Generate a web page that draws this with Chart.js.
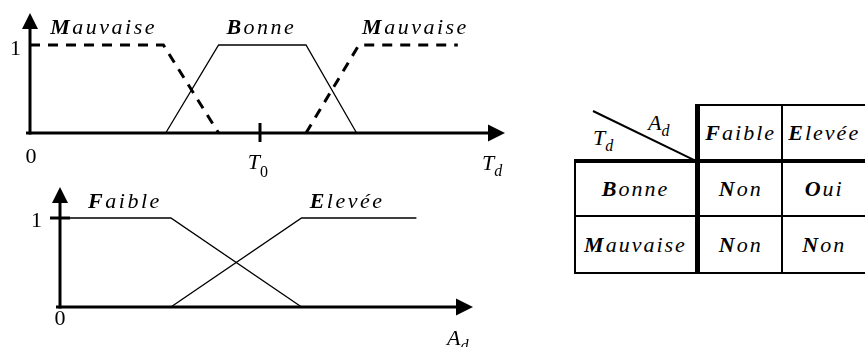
<!DOCTYPE html>
<html>
<head>
<meta charset="utf-8">
<script src="https://cdn.jsdelivr.net/npm/chart.js"></script>
<style>
  html, body { margin: 0; padding: 0; background: #fff; overflow: hidden; width: 865px; height: 347px; }
  #tdChart { position: absolute; left: 0; top: 0; }
  #adChart { position: absolute; left: 0; top: 180px; }
  #rules {
    position: absolute; left: 574px; top: 104px;
    border-collapse: separate; border-spacing: 0; table-layout: fixed;
    font-style: italic; font-size: 22px; letter-spacing: 2px; color: #000;
    font-family: "Liberation Serif", "Times New Roman", serif;
  }
  #rules th, #rules td {
    padding: 0; box-sizing: border-box; text-align: center; vertical-align: middle;
    font-weight: normal; border: 0 solid #000; white-space: nowrap;
  }
  #rules b { font-weight: bold; }
  #rules .corner { width: 126px; height: 59px; border-right-width: 5px; border-bottom-width: 4px; }
  #rules .head { border-top-width: 2px; border-bottom-width: 4px; }
  #rules .c2 { width: 85px; border-right-width: 2px; }
  #rules .c3 { width: 83px; }
  #rules .rowname { border-left-width: 2px; border-right-width: 5px; border-bottom-width: 2px; }
  #rules .cell { border-bottom-width: 2px; }
  .cornerbox { position: relative; width: 121px; height: 55px; }
  .diag { position: absolute; left: 19px; top: 6px; width: 112px; height: 2px; background: #000;
          transform-origin: 0 50%; transform: rotate(25.9deg); }
  .cname { position: absolute; line-height: 22px; letter-spacing: 0; }
  .sub { font-size: 16px; position: relative; top: 6px; }
</style>
</head>
<body>
<canvas id="tdChart" width="520" height="185"></canvas>
<canvas id="adChart" width="520" height="167"></canvas>
<table id="rules"></table>
<script>
// membership functions of T_d (x in arbitrary units, T0 = 5)
const t0 = 5;
const mauvaiseLeftX = [0, 2.9, 4.1];
const mauvaiseLeftY = [1, 1, 0];
const bonneX = [2.95, 4.1, 6.0, 7.1];
const bonneY = [0, 1, 1, 0];
const mauvaiseRightX = [6.0, 7.15, 9.3];
const mauvaiseRightY = [0, 1, 1];

// membership functions of A_d
const faibleX = [0, 2.8, 6.1];
const faibleY = [1, 1, 0];
const eleveeX = [2.8, 6.1, 9.0];
const eleveeY = [0, 1, 1];

// rule table
const rowLabels = ['Bonne', 'Mauvaise'];
const colLabels = ['Faible', 'Elevée'];
const decisions = [['Non', 'Oui'], ['Non', 'Non']];

const FONT = '"Liberation Serif", "Times New Roman", serif';

function series(xs, ys) {
  return xs.map((x, i) => ({ x: x, y: ys[i] }));
}

function drawWord(ctx, word, cx, y) {
  ctx.letterSpacing = '2.5px';
  ctx.font = 'italic bold 22px ' + FONT;
  const w1 = ctx.measureText(word[0]).width;
  ctx.font = 'italic 22px ' + FONT;
  const w2 = ctx.measureText(word.slice(1)).width;
  let x = cx - (w1 + w2) / 2;
  ctx.textAlign = 'left';
  ctx.font = 'italic bold 22px ' + FONT;
  ctx.fillText(word[0], x, y);
  ctx.font = 'italic 22px ' + FONT;
  ctx.fillText(word.slice(1), x + w1, y);
  ctx.letterSpacing = '0px';
}

function drawName(ctx, main, sub, x, y, subDy, subItalic) {
  ctx.textAlign = 'left';
  ctx.font = 'italic 22px ' + FONT;
  ctx.fillText(main, x, y);
  const w = ctx.measureText(main).width;
  ctx.font = (subItalic ? 'italic ' : '') + '16px ' + FONT;
  ctx.fillText(sub, x + w, y + subDy);
}

const fuzzyAxes = {
  id: 'fuzzyAxes',
  afterDatasetsDraw(chart, args, o) {
    const ctx = chart.ctx, xs = chart.scales.x, ys = chart.scales.y;
    const x0 = xs.getPixelForValue(0), y0 = ys.getPixelForValue(0), y1 = ys.getPixelForValue(1);
    ctx.save();
    ctx.strokeStyle = '#000';
    ctx.fillStyle = '#000';
    ctx.lineWidth = 3;
    ctx.setLineDash([]);

    // vertical axis with arrow
    const tipY = y1 - o.yArrow;
    ctx.beginPath(); ctx.moveTo(x0, y0 + 1.5); ctx.lineTo(x0, tipY + 10); ctx.stroke();
    ctx.beginPath(); ctx.moveTo(x0, tipY); ctx.lineTo(x0 - 8, tipY + 16); ctx.lineTo(x0 + 8, tipY + 16);
    ctx.closePath(); ctx.fill();

    // horizontal axis with arrow
    const tipX = xs.right + o.xArrow;
    ctx.beginPath(); ctx.moveTo(x0 - 4, y0); ctx.lineTo(tipX - 10, y0); ctx.stroke();
    ctx.beginPath(); ctx.moveTo(tipX, y0); ctx.lineTo(tipX - 17, y0 - 8.5); ctx.lineTo(tipX - 17, y0 + 8.5);
    ctx.closePath(); ctx.fill();

    if (o.oneTick) {
      ctx.beginPath(); ctx.moveTo(x0 - 10, y1); ctx.lineTo(x0 + 10, y1); ctx.stroke();
    }

    // numbers 0 and 1
    ctx.font = '22px ' + FONT;
    ctx.textAlign = 'right';
    ctx.fillText('1', x0 + o.one[0], y1 + o.one[1]);
    ctx.textAlign = 'center';
    ctx.fillText('0', x0 + o.zero[0], y0 + o.zero[1]);

    // marked value on the x axis
    (o.marks || []).forEach(m => {
      const px = xs.getPixelForValue(m.value);
      ctx.beginPath(); ctx.moveTo(px, y0 - 10); ctx.lineTo(px, y0 + 9); ctx.stroke();
      ctx.font = 'italic 22px ' + FONT;
      ctx.textAlign = 'right';
      ctx.fillText(m.main, px, y0 + 36);
      ctx.textAlign = 'left';
      ctx.font = '16px ' + FONT;
      ctx.fillText(m.sub, px, y0 + 44);
    });

    // axis name
    const n = o.name;
    drawName(ctx, n.main, n.sub, tipX + n.dx, y0 + n.dy, n.subDy, true);

    // set names
    o.labels.forEach(l => {
      drawWord(ctx, l.text, xs.getPixelForValue(l.at), y1 + l.dy);
    });
    ctx.restore();
  }
};

function lineSet(xs, ys, dashed) {
  return {
    data: series(xs, ys),
    borderColor: '#000',
    borderWidth: dashed ? 3 : 1.3,
    borderDash: dashed ? [10, 8] : [],
    pointRadius: 0,
    tension: 0,
    fill: false,
    clip: false
  };
}

function baseOptions(padding, xMax, axes) {
  return {
    responsive: false,
    animation: false,
    events: [],
    layout: { padding: padding },
    scales: {
      x: { type: 'linear', min: 0, max: xMax, display: false },
      y: { type: 'linear', min: 0, max: 1, display: false }
    },
    plugins: { legend: { display: false }, tooltip: { enabled: false }, fuzzyAxes: axes }
  };
}

new Chart(document.getElementById('tdChart'), {
  type: 'line',
  data: {
    datasets: [
      lineSet(mauvaiseLeftX, mauvaiseLeftY, true),
      lineSet(bonneX, bonneY, false),
      lineSet(mauvaiseRightX, mauvaiseRightY, true)
    ]
  },
  options: baseOptions({ left: 30, right: 30, top: 45, bottom: 52 }, 10, {
    yArrow: 32, xArrow: 15, oneTick: false,
    one: [-9, 10], zero: [1, 30],
    marks: [{ value: t0, main: 'T', sub: '0' }],
    name: { main: 'T', sub: 'd', dx: -23, dy: 37, subDy: 6 },
    labels: [
      { text: 'Mauvaise', at: 1.6, dy: -11 },
      { text: 'Bonne', at: 5.03, dy: -11 },
      { text: 'Mauvaise', at: 8.38, dy: -11 }
    ]
  }),
  plugins: [fuzzyAxes]
});

new Chart(document.getElementById('adChart'), {
  type: 'line',
  data: {
    datasets: [
      lineSet(faibleX, faibleY, false),
      lineSet(eleveeX, eleveeY, false)
    ]
  },
  options: baseOptions({ left: 60, right: 64, top: 38, bottom: 40 }, 10, {
    yArrow: 31, xArrow: 17, oneTick: true,
    one: [-18, 9], zero: [0, 18],
    marks: [],
    name: { main: 'A', sub: 'd', dx: -26, dy: 38, subDy: 6 },
    labels: [
      { text: 'Faible', at: 1.64, dy: -10 },
      { text: 'Elevée', at: 7.25, dy: -10 }
    ]
  }),
  plugins: [fuzzyAxes]
});

// rule table built from the arrays above
function styled(word) {
  return '<b>' + word[0] + '</b>' + word.slice(1);
}
const table = document.getElementById('rules');
let html = '<tr><th class="corner"><div class="cornerbox">' +
  '<div class="diag"></div>' +
  '<span class="cname" style="left:74px;top:8px">A<span class="sub">d</span></span>' +
  '<span class="cname" style="left:19px;top:23px">T<span class="sub">d</span></span>' +
  '</div></th>';
colLabels.forEach((c, j) => {
  html += '<th class="head ' + (j === 0 ? 'c2' : 'c3') + '">' + styled(c) + '</th>';
});
html += '</tr>';
const rowHeights = [54, 57];
rowLabels.forEach((r, i) => {
  html += '<tr style="height:' + rowHeights[i] + 'px"><th class="rowname">' + styled(r) + '</th>';
  decisions[i].forEach((d, j) => {
    html += '<td class="cell' + (j === 0 ? ' c2' : '') + '">' + styled(d) + '</td>';
  });
  html += '</tr>';
});
table.innerHTML = html;
</script>
</body>
</html>
